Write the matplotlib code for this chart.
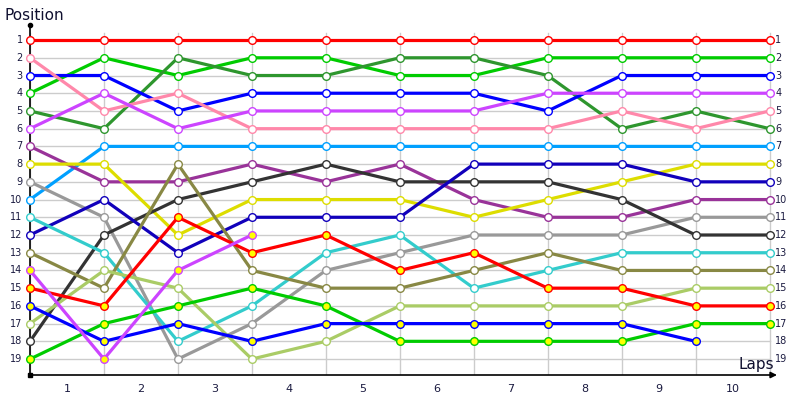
import matplotlib
matplotlib.use("Agg")
import matplotlib.pyplot as plt

# lap chart: position of each driver at each lap boundary (0..10)
laps = ['1', '2', '3', '4', '5', '6', '7', '8', '9', '10']
positions = list(range(1, 20))

red = [1, 1, 1, 1, 1, 1, 1, 1, 1, 1, 1]
green = [4, 2, 3, 2, 2, 3, 3, 2, 2, 2, 2]
dark_green = [5, 6, 2, 3, 3, 2, 2, 3, 6, 5, 6]
blue = [3, 3, 5, 4, 4, 4, 4, 5, 3, 3, 3]
pink = [2, 5, 4, 6, 6, 6, 6, 6, 5, 6, 5]
violet = [6, 4, 6, 5, 5, 5, 5, 4, 4, 4, 4]
sky = [10, 7, 7, 7, 7, 7, 7, 7, 7, 7, 7]
plum = [7, 9, 9, 8, 9, 8, 10, 11, 11, 10, 10]
yellow = [8, 8, 12, 10, 10, 10, 11, 10, 9, 8, 8]
grey = [9, 11, 19, 17, 14, 13, 12, 12, 12, 11, 11]
black = [18, 12, 10, 9, 8, 9, 9, 9, 10, 12, 12]
navy = [12, 10, 13, 11, 11, 11, 8, 8, 8, 9, 9]
cyan = [11, 13, 18, 16, 13, 12, 15, 14, 13, 13, 13]
olive = [13, 15, 8, 14, 15, 15, 14, 13, 14, 14, 14]
red_b = [15, 16, 11, 13, 12, 14, 13, 15, 15, 16, 16]
lime = [17, 14, 15, 19, 18, 16, 16, 16, 16, 15, 15]
green_b = [19, 17, 16, 15, 16, 18, 18, 18, 18, 17, 17]
blue_b = [16, 18, 17, 18, 17, 17, 17, 17, 17, 18]
violet_b = [14, 19, 14, 12]

series = [red, green, dark_green, blue, pink, violet, sky, plum, yellow,
          grey, black, navy, cyan, olive, lime, red_b, green_b, blue_b, violet_b]
colors = ['#ff0000', '#00cc00', '#2e962e', '#0000ff', '#ff88aa', '#cc44ff',
          '#00a0ff', '#993399', '#dddd00', '#999999', '#333333', '#1100bb',
          '#33cccc', '#888844', '#aacc66', '#ff0000', '#00cc00', '#0000ff', '#cc44ff']
fills = ['white'] * 15 + ['#ffff00'] * 4

fig = plt.figure(figsize=(8, 4), dpi=100)
ax = fig.add_axes([30 / 800, 25 / 400, 747 / 800, 350 / 400])
ax.set_xlim(0, 10.1)
ax.set_ylim(19.9, 0.15)
ax.axis('off')

n = len(laps)
# grid
for p in positions:
    ax.plot([0, n], [p, p], color='#cccccc', lw=1, zorder=1)
for i in range(n + 1):
    ax.plot([i, i], [0.6, 19.9], color='#cccccc', lw=1, zorder=1)

# axes lines
ax.plot([0, 0], [0.15, 19.9], color='black', lw=1.2, zorder=2, clip_on=False)
ax.plot([0], [0.15], 'o', color='black', ms=3, zorder=2, clip_on=False)
ax.plot([0], [19.9], 's', color='black', ms=2.5, zorder=2, clip_on=False)
ax.annotate('', xy=(10.1, 19.9), xytext=(0, 19.9), xycoords='data',
            arrowprops=dict(arrowstyle='-|>', color='black', lw=1.2,
                            mutation_scale=9, shrinkA=0, shrinkB=0),
            annotation_clip=False, zorder=2)

for vals, c, f in zip(series, colors, fills):
    x = list(range(len(vals)))
    ax.plot(x, vals, color=c, lw=2.3, marker='o', ms=5.5, mfc=f, mec=c,
            mew=1, zorder=3, clip_on=False)

lab_col = '#1a1a40'
for p in positions:
    ax.text(-0.1, p, str(p), ha='right', va='center', fontsize=7,
            color=lab_col)
    ax.text(10.075, p, str(p), ha='left', va='center', fontsize=7,
            color=lab_col)
for i, lap in enumerate(laps):
    ax.text(i + 0.5, 20.7, lap, ha='center', va='center', fontsize=8,
            color=lab_col)

fig.text(5 / 800, 1 - 15 / 400, 'Position', ha='left', va='center',
         fontsize=11, color='#101030')
fig.text(774 / 800, 1 - 364 / 400, 'Laps', ha='right', va='center',
         fontsize=11, color='#101030')

fig.savefig('out.png', dpi=100)
